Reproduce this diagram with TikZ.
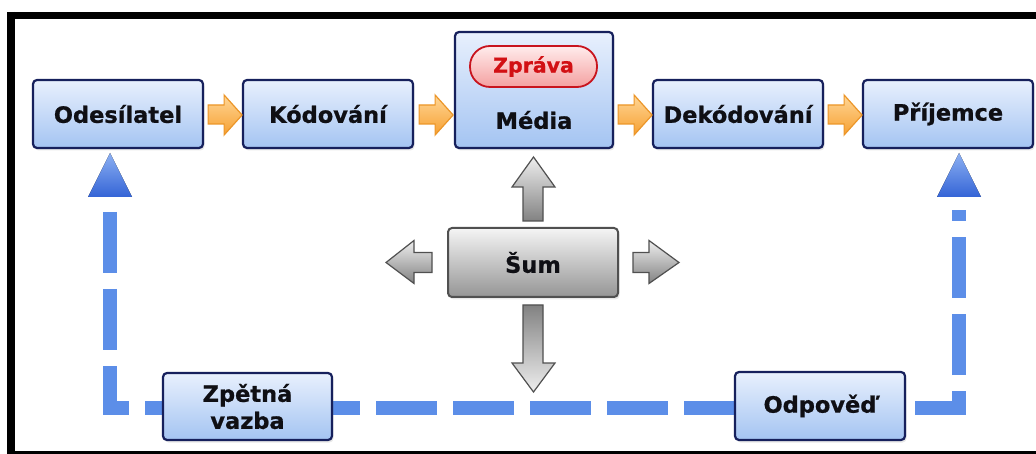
\documentclass[tikz,border=0pt]{standalone}
\usepackage{fontspec}
\setmainfont{DejaVu Sans}[FakeBold=0.8]
\usetikzlibrary{shadows,calc}
\definecolor{boxline}{RGB}{22,32,92}
\definecolor{boxtop}{RGB}{232,240,253}
\definecolor{boxmid}{RGB}{188,211,247}
\definecolor{boxbot}{RGB}{164,196,242}
\definecolor{fbblue}{RGB}{92,142,232}
\definecolor{txt}{RGB}{15,15,20}
\definecolor{pillline}{RGB}{200,20,30}
\definecolor{pilltop}{RGB}{255,236,236}
\definecolor{pillbot}{RGB}{244,160,160}
\definecolor{pilltxt}{RGB}{210,16,20}
\definecolor{orline}{RGB}{236,150,40}
\definecolor{ortop}{RGB}{255,214,150}
\definecolor{orbot}{RGB}{246,160,50}
\definecolor{grline}{RGB}{80,80,80}
\definecolor{grlight}{RGB}{238,238,238}
\definecolor{grdark}{RGB}{130,130,130}
\definecolor{tritop}{RGB}{140,176,242}
\definecolor{tribot}{RGB}{52,100,214}
\begin{document}
\begin{tikzpicture}[x=1pt,y=-1pt,
  bluebox/.style={draw=boxline, line width=2.2pt, rounded corners=4pt,
    top color=boxtop, middle color=boxmid, bottom color=boxbot,
    font=\fontsize{22.5}{27}\selectfont\bfseries, text=txt, align=center, inner sep=0pt,
    drop shadow={opacity=0.18,shadow xshift=1.5pt,shadow yshift=-2.5pt}},
  lbl/.style={font=\fontsize{22.5}{27}\selectfont\bfseries, text=txt, inner sep=0pt},
  pill/.style={draw=pillline, line width=1.8pt, rounded corners=20pt,
    top color=pilltop, bottom color=pillbot, text=pilltxt,
    font=\fontsize{20.5}{24}\selectfont\bfseries, inner sep=0pt},
  graybox/.style={draw=grline, line width=2pt, rounded corners=4pt,
    top color=grlight!60!white, middle color=grlight!70!grdark, bottom color=grdark!85!white,
    font=\fontsize{22.5}{27}\selectfont\bfseries, text=txt, inner sep=0pt,
    drop shadow={opacity=0.18,shadow xshift=1.5pt,shadow yshift=-2.5pt}},
  orarrow/.style={draw=orline, line width=1.2pt, line join=miter, top color=ortop, bottom color=orbot},
  grarrow/.style={draw=grline, line width=1.2pt, line join=miter},
  tri/.style={top color=tritop, bottom color=tribot, draw=none},
  fb/.style={draw=fbblue, line width=14pt, line join=miter, dash pattern=on 61pt off 16pt},
  frame/.style={draw=black}
]
\useasboundingbox (0,0) rectangle (1036,454);
\fill[white] (0,0) rectangle (1036,454);
% frame
\draw[frame, line width=7pt] (7,15.5) -- (1036,15.5);
\draw[frame, line width=8pt] (11,12) -- (11,454);
\draw[frame, line width=2.5pt] (7,452.5) -- (1036,452.5);

% feedback dashed path
\coordinate (fbL) at (110,212);
\coordinate (fbC1) at (110,408);
\coordinate (fbC2) at (959,408);
\coordinate (fbR) at (959,210);
\draw[fb] (fbL) -- (fbC1) -- (fbC2) -- (fbR);

% top row
\node[bluebox, minimum width=170pt, minimum height=68pt] (ode) at (118,114) {Odesílatel};
\node[bluebox, minimum width=170pt, minimum height=68pt] (kod) at (328,114) {Kódování};
\node[bluebox, minimum width=158pt, minimum height=116pt] (med) at (534,90) {};
\node[lbl] (medlbl) at (534,120) {Média};
\node[pill, minimum width=127pt, minimum height=41pt] (zpr) at (533.5,66.5) {Zpráva};
\node[bluebox, minimum width=170pt, minimum height=68pt] (dek) at (738,114) {Dekódování};
\node[bluebox, minimum width=170pt, minimum height=68pt] (pri) at (948,114) {Příjemce};

% orange arrows
\foreach \a/\d in {ode/0,kod/1,med/0,dek/0}{
  \begin{scope}[shift={(\a.east |- ode.east)}, xshift=\d pt]
    \draw[orarrow] (4,-9) -- (20,-9) -- (20,-19) -- (38,1) -- (20,21) -- (20,10) -- (4,10) -- cycle;
  \end{scope}
}

% triangles
\coordinate (tL) at (110,153);
\coordinate (tR) at (959,153);
\fill[tri] (tL) -- ++(22,44) -- ++(-44,0) -- cycle;
\fill[tri] (tR) -- ++(22,44) -- ++(-44,0) -- cycle;

% noise
\node[graybox, minimum width=170pt, minimum height=69pt] (sum) at (533,262.5) {Šum};
\begin{scope}[shift={(sum.north)}]
  \draw[grarrow, top color=grlight, bottom color=grdark] (-10,-6) -- (-10,-40) -- (-21,-40) -- (0.5,-70) -- (22,-40) -- (10,-40) -- (10,-6) -- cycle;
\end{scope}
\begin{scope}[shift={(sum.south)}]
  \draw[grarrow, top color=grdark, bottom color=grlight] (-10,7) -- (-10,65) -- (-21,65) -- (0.5,94) -- (22,65) -- (10,65) -- (10,7) -- cycle;
\end{scope}
\begin{scope}[shift={(sum.west)}]
  \draw[grarrow, top color=grlight, bottom color=grdark] (-15,-10) -- (-33,-10) -- (-33,-22) -- (-61,0) -- (-33,21) -- (-33,10) -- (-15,10) -- cycle;
\end{scope}
\begin{scope}[shift={(sum.east)}]
  \draw[grarrow, top color=grlight, bottom color=grdark] (14,-10) -- (30,-10) -- (30,-22) -- (60,0) -- (30,21) -- (30,10) -- (14,10) -- cycle;
\end{scope}

% bottom row
\node[bluebox, minimum width=169pt, minimum height=67pt] (zpe) at (247.5,406.5) {Zpětná\\vazba};
\node[bluebox, minimum width=170pt, minimum height=68pt] (odp) at (820,406) {Odpověď};
\end{tikzpicture}
\end{document}
